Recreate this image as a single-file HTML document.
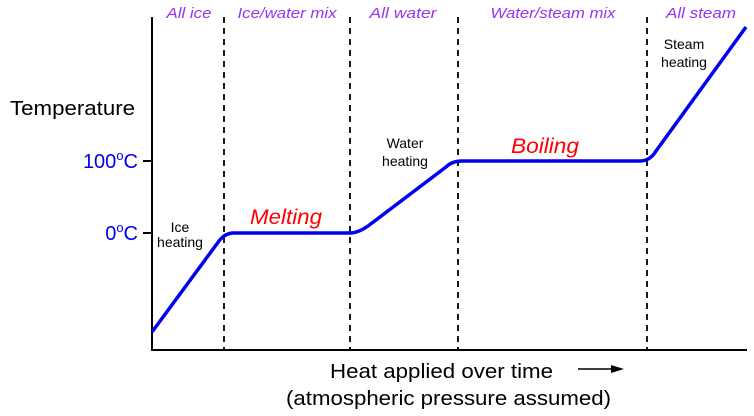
<!DOCTYPE html>
<html><head><style>body{margin:0;background:#fff}svg{display:block}</style></head><body>
<svg width="754" height="416" viewBox="0 0 754 416" xmlns="http://www.w3.org/2000/svg" font-family="Liberation Sans, sans-serif">
<g stroke="#000" stroke-width="2" fill="none">
<line x1="152" y1="17" x2="152" y2="351"/>
<line x1="151" y1="350" x2="747" y2="350"/>
<line x1="143" y1="161" x2="152" y2="161"/>
<line x1="143" y1="233" x2="152" y2="233"/>
</g>
<g stroke="#000" stroke-width="1.8" stroke-dasharray="6,5">
<line x1="224" y1="17" x2="224" y2="350"/>
<line x1="350" y1="17" x2="350" y2="350"/>
<line x1="458" y1="17" x2="458" y2="350"/>
<line x1="647" y1="17" x2="647" y2="350"/>
</g>
<path d="M152,332 L219,241 Q225,233 234,233 L350,233 Q358,233 368,226 L446,167 Q452,161 462,161 L640,161 Q650,161 656,151 L746,27" stroke="#0000ee" stroke-width="3.5" fill="none" stroke-linejoin="round"/>
<g fill="#9933ee" font-style="italic" font-size="15" text-anchor="middle">
<text x="189" y="18" textLength="45" lengthAdjust="spacingAndGlyphs">All ice</text>
<text x="287" y="18" textLength="99" lengthAdjust="spacingAndGlyphs">Ice/water mix</text>
<text x="403" y="18" textLength="67" lengthAdjust="spacingAndGlyphs">All water</text>
<text x="553" y="18" textLength="125" lengthAdjust="spacingAndGlyphs">Water/steam mix</text>
<text x="701" y="18" textLength="70" lengthAdjust="spacingAndGlyphs">All steam</text>
</g>
<text x="10" y="115" font-size="20" textLength="125" lengthAdjust="spacingAndGlyphs">Temperature</text>
<text x="138" y="168" font-size="20" fill="#0000ee" text-anchor="end">100<tspan font-size="13" dy="-8">o</tspan><tspan dy="8">C</tspan></text>
<text x="138" y="240" font-size="20" fill="#0000ee" text-anchor="end">0<tspan font-size="13" dy="-8">o</tspan><tspan dy="8">C</tspan></text>
<g font-size="14" text-anchor="middle">
<text x="180" y="232">Ice</text><text x="180" y="247">heating</text>
<text x="405" y="148">Water</text><text x="405" y="166">heating</text>
<text x="684" y="49">Steam</text><text x="684" y="67">heating</text>
</g>
<g fill="#ff0000" font-style="italic" font-size="21" text-anchor="middle">
<text x="286" y="224" textLength="72" lengthAdjust="spacingAndGlyphs">Melting</text>
<text x="545" y="153" textLength="68" lengthAdjust="spacingAndGlyphs">Boiling</text>
</g>
<g font-size="20">
<text x="330" y="378" textLength="223" lengthAdjust="spacingAndGlyphs">Heat applied over time</text>
<text x="286" y="405" textLength="325" lengthAdjust="spacingAndGlyphs">(atmospheric pressure assumed)</text>
</g>
<line x1="578" y1="369" x2="614" y2="369" stroke="#000" stroke-width="1.5"/>
<path d="M624,369 L611,365 L611,373 Z" fill="#000"/>
</svg>
</body></html>
